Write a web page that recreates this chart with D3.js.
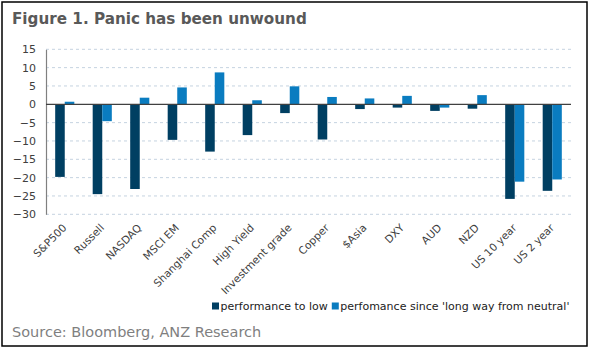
<!DOCTYPE html>
<html><head><meta charset="utf-8">
<script src="https://cdn.jsdelivr.net/npm/d3@7"></script>
<style>body{margin:0;background:#fff}svg{display:block}</style>
</head><body>
<svg id="c" width="589" height="349"></svg>
<script>
const categories = ["S&P500","Russell","NASDAQ","MSCI EM","Shanghai Comp","High Yield","Investment grade","Copper","$Asia","DXY","AUD","NZD","US 10 year","US 2 year"];
const perfToLow = [-19.8,-24.5,-23.1,-9.7,-12.9,-8.4,-2.4,-9.6,-1.3,-0.9,-1.8,-1.2,-25.8,-23.6];
const perfSince = [0.7,-4.6,1.8,4.6,8.7,1.1,4.9,2.0,1.6,2.3,-0.9,2.5,-21.1,-20.5];
const seriesNames = ["performance to low","perfomance since 'long way from neutral'"];
const yTicks = [15,10,5,0,-5,-10,-15,-20,-25,-30];
const colors = ["#003f62","#0a7cc0"];

const svg = d3.select("#c");
const font = "DejaVu Sans, Verdana, sans-serif";
svg.append("rect").attr("x",2).attr("y",2).attr("width",585).attr("height",344)
  .attr("fill","#fff").attr("stroke","#000").attr("stroke-width",1.5);
svg.append("text").attr("x",12).attr("y",24).text("Figure 1. Panic has been unwound")
  .attr("font-family",font).attr("font-weight","bold").attr("font-size",15.2).attr("fill","#595959");

const left = 46, right = 571;
const x = d3.scaleBand().domain(categories).range([left,right]).paddingInner(0.49).paddingOuter(0.245);
const x1 = d3.scaleBand().domain([0,1]).range([0,x.bandwidth()]);
const y = d3.scaleLinear().domain([-30,15]).range([214.3,49.3]);

// grid
svg.append("g").selectAll("line").data(yTicks.filter(d=>d!==0)).join("line")
  .attr("x1",left).attr("x2",right).attr("y1",d=>y(d)).attr("y2",d=>y(d))
  .attr("stroke","#c5d3e0").attr("stroke-width",1).attr("stroke-dasharray","3,3");

// y axis
const yAxis = d3.axisLeft(y).tickValues(yTicks).tickSize(0).tickPadding(10);
const ga = svg.append("g").attr("transform",`translate(${left},0)`).call(yAxis);
ga.select(".domain").attr("stroke","#808080").attr("stroke-width",1.2);
ga.selectAll("text").attr("font-family",font).attr("font-size",11).attr("fill","#404040");

// bars
const data = categories.map((c,i)=>({c, v:[perfToLow[i], perfSince[i]]}));
const g = svg.append("g");
data.forEach(d=>{
  d.v.forEach((v,j)=>{
    g.append("rect").attr("x",x(d.c)+x1(j)).attr("width",x1.bandwidth())
      .attr("y",y(Math.max(0,v))).attr("height",Math.abs(y(v)-y(0)))
      .attr("fill",colors[j]);
  });
});

// zero line
svg.append("line").attr("x1",left).attr("x2",right).attr("y1",y(0)).attr("y2",y(0))
  .attr("stroke","#404040").attr("stroke-width",1.2);

// x labels
const xl = svg.append("g");
categories.forEach(c=>{
  const cx = x(c)+x.bandwidth()/2 + 2.5, cy = 228.5;
  xl.append("text").attr("transform",`translate(${cx},${cy}) rotate(-45)`)
    .attr("text-anchor","end").attr("font-family",font).attr("font-size",10.6).attr("fill","#404040").text(c);
});

// legend
const lg = svg.append("g").attr("font-family",font).attr("font-size",11).attr("fill","#222");
let lx = 212;
seriesNames.forEach((n,j)=>{
  lg.append("rect").attr("x",lx).attr("y",302.5).attr("width",7).attr("height",7).attr("fill",colors[j]);
  const t = lg.append("text").attr("x",lx+8.5).attr("y",310).text(n);
  lx += 8.5 + t.node().getComputedTextLength() + 4;
});

svg.append("text").attr("x",12).attr("y",337).text("Source: Bloomberg, ANZ Research")
  .attr("font-family",font).attr("font-size",14.5).attr("fill","#7f7f7f");
</script>
</body></html>
